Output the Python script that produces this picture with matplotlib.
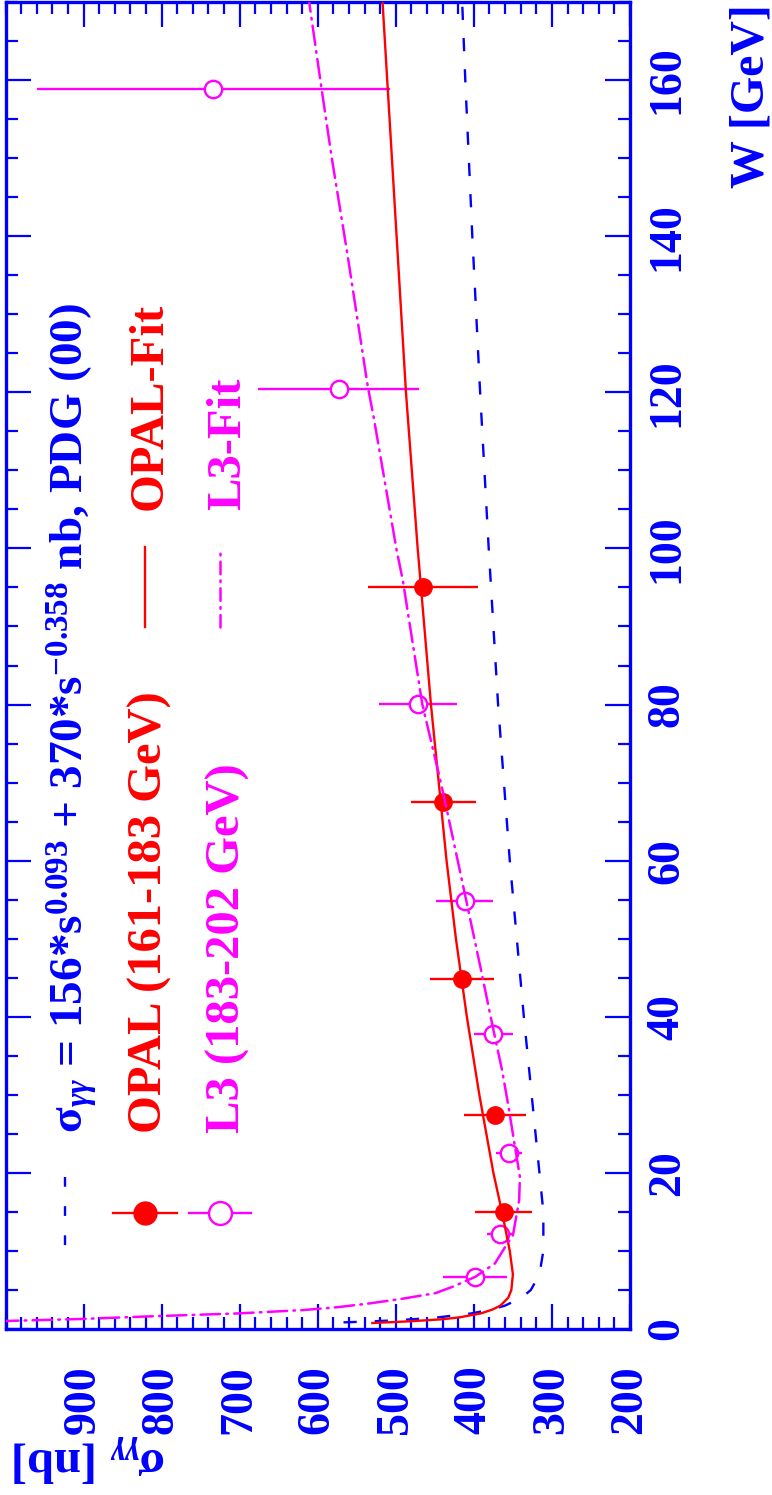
import matplotlib
matplotlib.use("Agg")
import matplotlib.pyplot as plt
from matplotlib.lines import Line2D
from matplotlib.ticker import MultipleLocator

plt.rcParams['font.family'] = ['Liberation Serif', 'DejaVu Serif']
plt.rcParams['font.weight'] = 'bold'
plt.rcParams['mathtext.fontset'] = 'custom'
plt.rcParams['mathtext.rm'] = 'Liberation Serif:bold'
plt.rcParams['mathtext.it'] = 'Liberation Serif:italic'
plt.rcParams['mathtext.bf'] = 'Liberation Serif:bold'
plt.rcParams['lines.scale_dashes'] = False

# ---------------- data ----------------
opal_W = [15.0, 27.4, 44.9, 67.5, 95.0]
opal_sigma = [362, 373, 415, 439, 465]
opal_err = [36, 40, 41, 42, 70]

l3_W = [6.7, 12.2, 22.5, 37.8, 54.8, 80.1, 120.4, 158.8]
l3_sigma = [398, 366, 355, 375, 412, 471, 573, 734]
l3_err = [41, 17, 17, 25, 37, 50, 103, 226]

pdg_W = [0.85, 0.9, 1.0, 1.1, 1.25, 1.5, 2, 2.5, 3, 4, 5, 7, 10, 15, 20, 30,
         40, 50, 60, 80, 100, 120, 140, 160, 170]
pdg_sigma = [567, 552, 526, 504, 478, 445, 403, 377, 360, 339, 327, 316, 311,
             311, 316, 326, 336, 345, 354, 369, 381, 392, 402, 411, 415]

opal_fit_W = [0.77, 0.9, 1.0, 1.25, 1.5, 2, 2.5, 3, 4, 5, 7, 10, 15, 20, 30,
              40, 50, 60, 80, 100, 120, 140, 160, 170]
opal_fit_sigma = [530, 500, 480, 440, 418, 391, 376, 366, 356, 352, 350, 354,
                  364, 375, 393, 409, 423, 435, 455, 472, 487, 499, 511, 517]

l3_fit_W = [1.0, 1.28, 1.6, 2.0, 2.43, 2.8, 3.3, 3.9, 4.6, 5.5, 6.7, 8.4,
            10.5, 12, 16.5, 19.5, 22.5, 28.7, 33.2, 37.4, 41.2, 45.6, 55,
            66.2, 70.3, 80, 95.9, 99.8, 116.6, 120.8, 137.7, 150, 158.8, 170]
l3_fit_sigma = [1010, 904, 821, 701, 618, 574, 532, 490, 449, 425, 398, 373,
                360, 350, 342, 341, 346, 356, 364, 373, 381, 390, 410,
                434, 443, 466, 491, 499, 528, 536, 562, 582, 595, 611]

sigma_ticks = [200, 300, 400, 500, 600, 700, 800, 900]
sigma_tick_labels = ['200', '300', '400', '500', '600', '700', '800', '900']
W_ticks = [0, 20, 40, 60, 80, 100, 120, 140, 160]
W_tick_labels = ['0', '20', '40', '60', '80', '100', '120', '140', '160']

formula_text = (r'σ$_{\gamma\gamma}$ = 156*s$^{0.093}$ + 370*s$^{\mathrm{-0.358}}$'
                r' nb, PDG (00)')
opal_label = 'OPAL (161-183 GeV)'
l3_label = 'L3 (183-202 GeV)'
opal_fit_label = 'OPAL-Fit'
l3_fit_label = 'L3-Fit'

# ---------------- figure ----------------
BLUE = '#0000ff'
RED = '#ff0000'
MAG = '#ff00ff'
WPX, HPX = 772, 1495
fig = plt.figure(figsize=(WPX / 100, HPX / 100), dpi=100)


def fx(x):
    return x / WPX


def fy(y):
    return 1 - y / HPX


ax = fig.add_axes([fx(5.5), fy(1329), fx(630) - fx(5.5), fy(2) - fy(1329)])
ax.set_xlim(1000, 200)
ax.set_ylim(0, 170)

DASHDOT = (14, 4.5, 1.2, 4.5)

# curves (x = cross-section, y = W : the chart is drawn rotated)
ax.plot(pdg_sigma, pdg_W, color=BLUE, lw=1.7, dashes=(9.5, 13), zorder=4)
ax.plot(opal_fit_sigma, opal_fit_W, color=RED, lw=1.7, zorder=4)
ax.plot(l3_fit_sigma, l3_fit_W, color=MAG, lw=1.8, dashes=DASHDOT,
        dash_capstyle='round', zorder=4)

# data points
ax.errorbar(opal_sigma, opal_W, xerr=opal_err, fmt='none', ecolor=RED,
            elinewidth=1.7, capsize=0, zorder=2)
ax.plot(opal_sigma, opal_W, 'o', color=RED, ms=12.5, zorder=3)
ax.errorbar(l3_sigma, l3_W, xerr=l3_err, fmt='none', ecolor=MAG,
            elinewidth=1.7, capsize=0, zorder=2)
ax.plot(l3_sigma, l3_W, 'o', mfc='white', mec=MAG, mew=1.7, ms=12.5, zorder=3)

# axes styling
for sp in ax.spines.values():
    sp.set_color(BLUE)
    sp.set_linewidth(2.4)
ax.set_xticks(sigma_ticks)
ax.set_xticklabels(sigma_tick_labels)
ax.set_yticks(W_ticks)
ax.set_yticklabels(W_tick_labels)
ax.xaxis.set_minor_locator(MultipleLocator(20))
ax.yaxis.set_minor_locator(MultipleLocator(5))
ax.tick_params(which='both', direction='in', top=True, bottom=True,
               left=True, right=True, color=BLUE, width=1.6,
               labelleft=False, labelright=True, labelbottom=True,
               labeltop=False, labelcolor=BLUE, labelsize=33)
ax.tick_params(which='major', length=18)
ax.tick_params(which='minor', length=8.6)
ax.tick_params(axis='x', labelrotation=90, pad=26)
ax.tick_params(axis='y', labelrotation=90, pad=12)
for t in ax.get_yticklabels():
    t.set_verticalalignment('center')
    t.set_horizontalalignment('left')
for t in ax.get_xticklabels():
    t.set_verticalalignment('top')
    t.set_horizontalalignment('center')

# axis titles
fig.text(fx(763), fy(4), 'W [GeV]', rotation=90, rotation_mode='anchor',
         ha='right', va='baseline', color=BLUE, fontsize=34.5, fontweight='bold')
fig.text(fx(166), fy(1448), r'σ$_{\gamma\gamma}$ [nb]', rotation=180,
         rotation_mode='anchor', ha='left', va='baseline', color=BLUE,
         fontsize=35, fontweight='bold')

# legend texts
fig.text(fx(83), fy(1133), formula_text, rotation=90, rotation_mode='anchor',
         ha='left', va='baseline', color=BLUE, fontsize=34, fontweight='bold')
fig.text(fx(162), fy(1133), opal_label, rotation=90, rotation_mode='anchor',
         ha='left', va='baseline', color=RED, fontsize=35, fontweight='bold')
fig.text(fx(240), fy(1133), l3_label, rotation=90, rotation_mode='anchor',
         ha='left', va='baseline', color=MAG, fontsize=35, fontweight='bold')
fig.text(fx(162), fy(510), opal_fit_label, rotation=90, rotation_mode='anchor',
         ha='left', va='baseline', color=RED, fontsize=35, fontweight='bold')
fig.text(fx(240), fy(510), l3_fit_label, rotation=90, rotation_mode='anchor',
         ha='left', va='baseline', color=MAG, fontsize=35, fontweight='bold')

# legend symbols
fig.add_artist(Line2D([fx(65), fx(65)], [fy(1177), fy(1250)], color=BLUE,
                      lw=1.7, dashes=(7, 14)))
fig.add_artist(Line2D([fx(113), fx(177)], [fy(1213), fy(1213)], color=RED,
                      lw=1.7))
fig.add_artist(Line2D([fx(145)], [fy(1213)], marker='o', ms=16.5, color=RED,
                      lw=0))
fig.add_artist(Line2D([fx(189), fx(251)], [fy(1213), fy(1213)], color=MAG,
                      lw=1.7))
fig.add_artist(Line2D([fx(220)], [fy(1213)], marker='o', ms=16.5, mfc='white',
                      mec=MAG, mew=1.7, lw=0))
fig.add_artist(Line2D([fx(145), fx(145)], [fy(627), fy(547)], color=RED,
                      lw=1.7))
fig.add_artist(Line2D([fx(220), fx(220)], [fy(627), fy(547)], color=MAG,
                      lw=1.8, dashes=(9, 4.5, 1.2, 4.5), dash_capstyle='round'))

fig.savefig('out.png', dpi=100)
